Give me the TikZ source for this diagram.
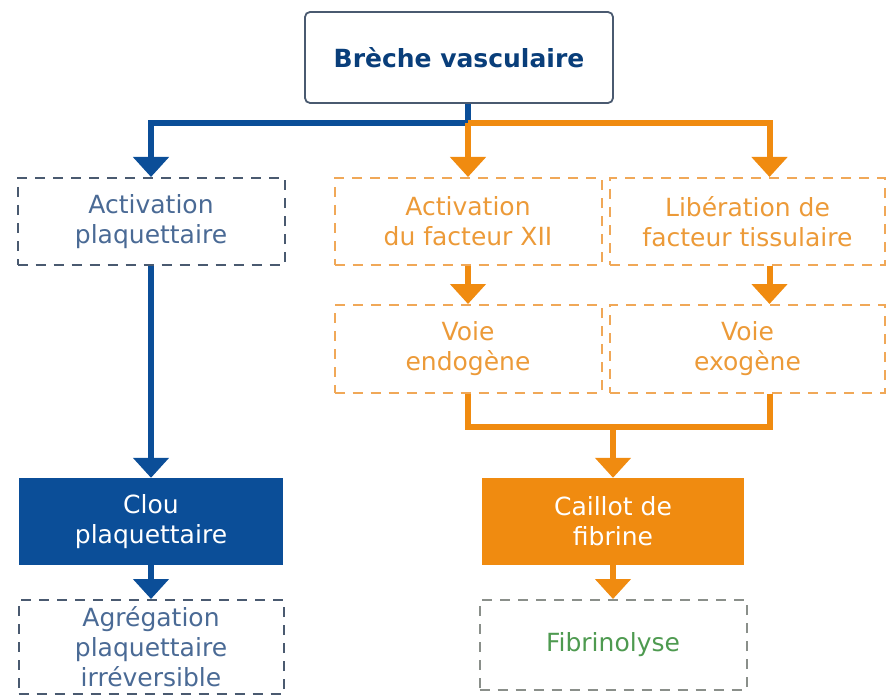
\documentclass[tikz,border=0pt]{standalone}
\usepackage{fontspec}
\setmainfont{DejaVu Sans}
\usepackage{xcolor}
\usetikzlibrary{arrows.meta}

\definecolor{hemblue}{HTML}{0B4E98}
\definecolor{hemorange}{HTML}{F08B10}
\definecolor{txtblue}{HTML}{4A6A95}
\definecolor{txtorange}{HTML}{EC9A38}
\definecolor{txtgreen}{HTML}{4E9A50}
\definecolor{lineblue}{HTML}{4A5A70}
\definecolor{lineorange}{HTML}{F0A858}
\definecolor{linegray}{HTML}{8A8F8A}

\begin{document}
\begin{tikzpicture}[x=1pt,y=-1pt,
            box/.style={shape=rectangle, inner sep=0pt, align=center, font=\fontsize{25}{30}\selectfont},
            titlebox/.style={box, draw=lineblue, line width=1.8pt, rounded corners=5pt, text=hemblue!80!black, font=\fontsize{25}{30}\selectfont\bfseries},
            dashblue/.style={box, draw=lineblue, line width=2pt, dash pattern=on 10pt off 8pt, text=txtblue},
            dashorange/.style={box, draw=lineorange, line width=2pt, dash pattern=on 10pt off 8pt, text=txtorange},
            dashgray/.style={box, draw=linegray, line width=2pt, dash pattern=on 10pt off 8pt, text=txtgreen},
            fillblue/.style={box, fill=hemblue, text=white},
            fillorange/.style={box, fill=hemorange, text=white},
            barrow/.style={draw=hemblue, line width=6pt, line join=miter, -{Triangle[width=35pt,length=20pt]}},
            oarrow/.style={draw=hemorange, line width=6pt, line join=miter, -{Triangle[width=35pt,length=20pt]}},
            oline/.style={draw=hemorange, line width=6pt, line join=miter}]
        \useasboundingbox (0,0) rectangle (891,695);

        \node[titlebox, minimum width=308pt, minimum height=91pt] (breche) at (459,57.5) {Brèche vasculaire};

        \node[dashblue, minimum width=267pt, minimum height=87pt] (actplaq) at (151,221.5) {Activation\\plaquettaire};
        \node[dashorange, minimum width=267pt, minimum height=87pt] (actXII) at (468,221.5) {Activation\\du facteur XII};
        \node[dashorange, minimum width=275pt, minimum height=87pt] (libFT) at (747.5,221.5) {Libération de\\facteur tissulaire};

        \node[dashorange, minimum width=267pt, minimum height=88pt] (endo) at (468,349) {Voie\\endogène};
        \node[dashorange, minimum width=275pt, minimum height=88pt] (exo) at (747.5,349) {Voie\\exogène};

        \node[fillblue, minimum width=264pt, minimum height=87pt] (clou) at (151,521.5) {Clou\\plaquettaire};
        \node[fillorange, minimum width=262pt, minimum height=87pt] (caillot) at (613,521.5) {Caillot de\\fibrine};

        \node[dashblue, minimum width=265pt, minimum height=94pt] (agreg) at (151,647) {Agrégation\\plaquettaire\\irréversible};
        \node[dashgray, minimum width=267pt, minimum height=90pt] (fibrino) at (613,645) {Fibrinolyse};

        \coordinate (split) at (468,123);
        \coordinate (merge) at (613,427);

        % plaquettes
        \draw[barrow] (breche.south -| split) -- (split) -| (actplaq.north);
        \draw[barrow] (actplaq.south) -- (clou.north);
        \draw[barrow] (clou.south) -- (agreg.north);

        % coagulation
        \draw[oarrow] (split) -- (actXII.north);
        \draw[oarrow] (split) -| ([xshift=22pt]libFT.north);
        \draw[oarrow] (actXII.south) -- (endo.north);
        \draw[oarrow] ([xshift=22pt]libFT.south) -- ([xshift=22pt]exo.north);
        \draw[oline] (endo.south) |- (merge) -| ([xshift=22pt]exo.south);
        \draw[oarrow] (merge) -- (caillot.north);
        \draw[oarrow] (caillot.south) -- (fibrino.north);
    \end{tikzpicture}
\end{document}
